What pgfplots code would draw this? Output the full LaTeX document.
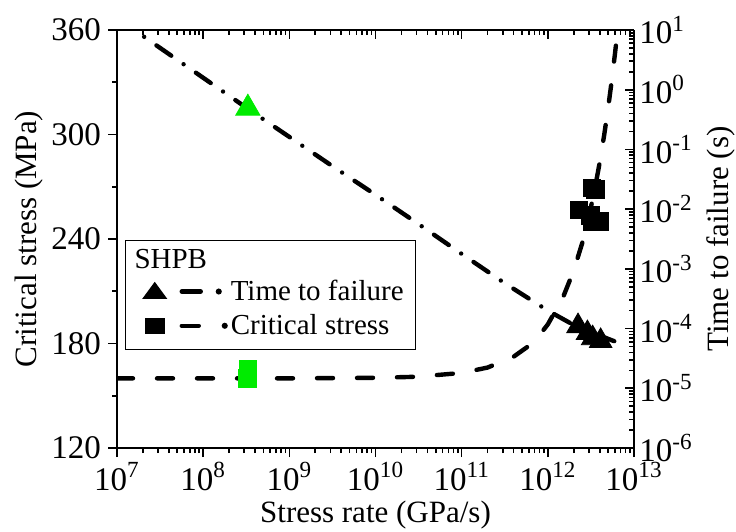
\documentclass[border=0pt]{standalone}
\usepackage{pgfplots}
\pgfplotsset{compat=1.18}
\usepackage{fontspec}
\setmainfont{Liberation Serif}
\definecolor{mkgreen}{RGB}{0,235,0}

\pgfplotstableread{
rate      stress
1e7       160.0
1e9       160.0
1e10      160.3
3e10      160.9
1e11      163.1
2e11      166.2
4e11      172.4
6e11      178.6
8e11      184.8
1e12      191.0
1.5e12    206.5
2e12      222.0
2.5e12    237.5
3e12      253.0
3.5e12    268.5
4e12      284.0
4.5e12    299.5
5e12      315.0
5.5e12    330.5
6e12      346.0
6.5e12    361.5
}\stresscurve

\pgfplotstableread{
rate      time
1e7       15.85
3.162e7   5.01
1e8       1.585
3.162e8   0.501
1e9       0.162
3.162e9   5.25e-2
1e10      1.74e-2
3.162e10  5.62e-3
1e11      1.78e-3
3.162e11  5.75e-4
5.623e11  3.39e-4
1e12      2.0e-4
1.778e12  1.26e-4
3.162e12  8.71e-5
5.623e12  6.31e-5
7.943e12  5.25e-5
}\timecurve

\tikzset{thickln/.style={line width=2.2bp, line cap=round}}

\begin{document}
\begin{tikzpicture}
\useasboundingbox (-58.5bp,-42bp) rectangle (309.5bp,224bp);
% left axis: critical stress
\begin{axis}[
  scale only axis, width=258.5bp, height=209bp,
  xmode=log, xmin=1e7, xmax=1e13,
  axis line style={line width=1bp},
  every tick/.style={black, line width=0.8bp},
  major tick length=4.5bp, minor tick length=2.5bp,
  tick label style={font=\fontsize{16.5bp}{16.5bp}\selectfont},
  xticklabel style={yshift=-1.5bp, inner sep=1bp},
  xtick={1e7,1e8,1e9,1e10,1e11,1e12,1e13},
  axis x line*=bottom, axis y line*=left, tick align=outside,
  ymin=120, ymax=360,
  ytick={120,180,240,300,360}, yticklabels={120,180,240,300,360},
  minor y tick num=1,
  xticklabels={10\textsuperscript{7},10\textsuperscript{8},10\textsuperscript{9},10\textsuperscript{10},10\textsuperscript{11},10\textsuperscript{12},10\textsuperscript{13}},
  xlabel={Stress rate (GPa/s)},
  ylabel={Critical stress (MPa)},
  xlabel style={at={(axis description cs:0.5,-0.16)}, anchor=center, inner sep=0pt, font=\fontsize{15.5bp}{15.5bp}\selectfont},
  ylabel style={at={(axis description cs:-0.171,0.5)}, anchor=center, font=\fontsize{15.5bp}{15.5bp}\selectfont},
]
\addplot[black, thickln, dash pattern=on 8bp off 12bp] table[x=rate, y=stress] {\stresscurve};
\addplot[only marks, mark=square*, mark size=4.4bp, color=mkgreen] coordinates {(3.3e8,165.1) (3.25e8,160.0)};
\addplot[only marks, mark=square*, mark size=4.4bp, color=black] coordinates {
  (2.29e12,256.7) (3.24e12,269.3) (3.55e12,268.5) (3.1e12,253.5) (3.31e12,249.8) (3.98e12,250.0)};
\end{axis}
% right axis: time to failure
\begin{axis}[
  scale only axis, width=258.5bp, height=209bp,
  xmode=log, xmin=1e7, xmax=1e13,
  axis line style={line width=1bp},
  every tick/.style={black, line width=0.8bp},
  major tick length=4.5bp, minor tick length=2.5bp,
  tick label style={font=\fontsize{16.5bp}{16.5bp}\selectfont},
  yticklabel style={inner sep=1bp, xshift=1.5bp},
  xtick={1e7,1e8,1e9,1e10,1e11,1e12,1e13},
  axis x line*=top, axis y line*=right, tick align=inside,
  xticklabels={},
  ymode=log, ymin=1e-6, ymax=1e1,
  ytick={1e-6,1e-5,1e-4,1e-3,1e-2,1e-1,1e0,1e1},
  yticklabels={10\textsuperscript{-6},10\textsuperscript{-5},10\textsuperscript{-4},10\textsuperscript{-3},10\textsuperscript{-2},10\textsuperscript{-1},10\textsuperscript{0},10\textsuperscript{1}},
  ylabel={Time to failure (s)},
  ylabel style={at={(axis description cs:1.168,0.5)}, anchor=center, font=\fontsize{15.5bp}{15.5bp}\selectfont},
  legend cell align=left,
  legend style={at={(0.015,0.498)}, anchor=north west, draw=black, line width=0.8bp,
    font=\fontsize{14.5bp}{14.5bp}\selectfont, row sep=2.5bp, inner xsep=4.5bp, inner ysep=4.5bp,
    nodes={inner sep=1.5bp}},
]
\addplot[forget plot, black, thickln, dash pattern=on 9bp off 7.5bp on 0bp off 7.5bp] table[x=rate, y=time] {\timecurve};
\addplot[forget plot, only marks, mark=triangle*, mark size=7bp, color=mkgreen] coordinates {(3.3e8,0.49)};
\addplot[forget plot, only marks, mark=triangle*, mark size=6.5bp, color=black] coordinates {
  (2.24e12,1.10e-4) (2.88e12,8.4e-5) (3.31e12,6.9e-5) (4.1e12,6.2e-5)};

\addlegendimage{legend image code/.code={\node[anchor=west, inner sep=0pt] at (-10.5bp,0bp) {SHPB};}}
\addlegendentry{}
\addlegendimage{legend image code/.code={
  \fill[black] (0bp,4.2bp) -- (-5.5bp,-3.3bp) -- (5.5bp,-3.3bp) -- cycle;
  \draw[black, line width=2.2bp, line cap=round] (13.5bp,0bp) -- (23bp,0bp);
  \fill[black] (32bp,0bp) circle (1.1bp);}}
\addlegendentry{Time to failure}
\addlegendimage{legend image code/.code={
  \fill[black] (-4.5bp,-3.6bp) rectangle (4.5bp,3.6bp);
  \draw[black, line width=2.2bp, line cap=round] (13.5bp,0bp) -- (22bp,0bp);
  \fill[black] (35bp,0bp) circle (1.1bp);}}
\addlegendentry{Critical stress}
\end{axis}
\end{tikzpicture}
\end{document}
